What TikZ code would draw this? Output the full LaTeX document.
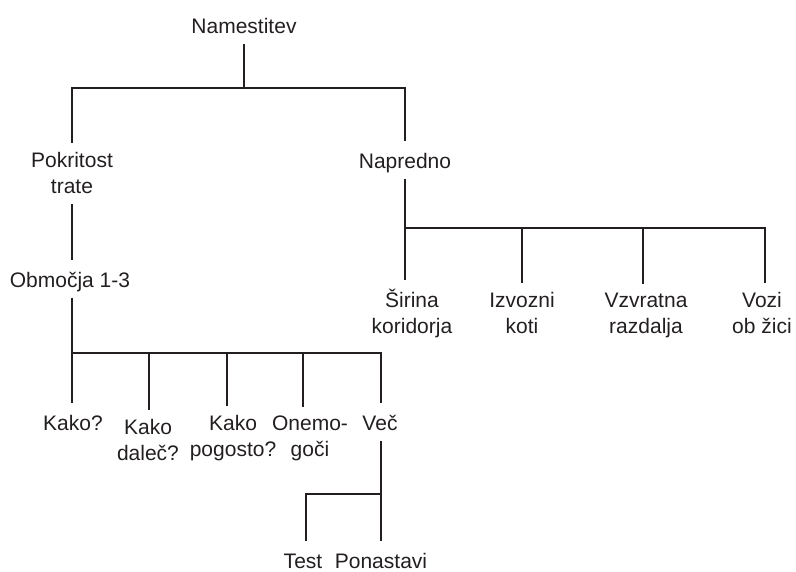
\documentclass[tikz,border=0pt]{standalone}
\usepackage{fontspec}
\setmainfont{Liberation Sans}
\definecolor{treeink}{RGB}{35,31,32}
\tikzset{
  lbl/.style={align=center, inner xsep=0pt, inner ysep=3pt, anchor=base, text=treeink,
    font=\fontsize{21}{25.5}\selectfont,
    execute at begin node=\strut, execute at end node=\strut},
  wire/.style={line width=2.8pt, draw=treeink},
  kid/.style={wire, shorten >=6pt},
}

\begin{document}
\begin{tikzpicture}[x=1pt, y=-1pt]
  \useasboundingbox (0,0) rectangle (796,571);
  % labels (base = last line)
  \node[lbl] (root) at (244,33) {Namestitev};
  \node[lbl] (pok) at (72,193) {Pokritost\\trate};
  \node[lbl] (nap) at (405,168) {Napredno};
  \node[lbl] (obm) at (70,287) {Območja 1-3};
  \node[lbl] (sir) at (412,333) {Širina\\koridorja};
  \node[lbl] (izv) at (522,333) {Izvozni\\koti};
  \node[lbl] (vzv) at (646,333) {Vzvratna\\razdalja};
  \node[lbl] (voz) at (762,333) {Vozi\\ob žici};
  \node[lbl] (kak) at (73,430) {Kako?};
  \node[lbl] (dal) at (148,460) {Kako\\daleč?};
  \node[lbl] (pog) at (233,456) {Kako\\pogosto?};
  \node[lbl] (one) at (310,456) {Onemo-\\goči};
  \node[lbl] (vec) at (380,430) {Več};
  \node[lbl] (tst) at (303,568) {Test};
  \node[lbl] (pon) at (381,568) {Ponastavi};
  % bus lines
  \coordinate (b0) at (244,88);
  \coordinate (b1) at (405,228);
  \coordinate (b2) at (72,353);
  \coordinate (b3) at (381,494);
  % connectors
  \draw[wire] (root.south) -- (b0);
  \foreach \k in {pok,nap}
    \draw[kid] (b0) -| (\k.north);
  \draw[kid] (pok.south) -- (pok |- obm.north);
  \draw[wire] (nap.south) -- (b1);
  \foreach \k/\dx in {sir/-7, izv/0, vzv/-3, voz/3}
    \draw[kid] (b1) -| ([xshift=\dx pt]\k.north);
  \draw[wire] (b2 |- obm.south) -- (b2);
  \foreach \k/\dx in {kak/-1, dal/1, pog/-6, one/-7, vec/1}
    \draw[kid] (b2) -| ([xshift=\dx pt]\k.north);
  \draw[wire] (b3 |- vec.south) -- (b3);
  \foreach \k/\dx in {tst/3, pon/0}
    \draw[kid] (b3) -| ([xshift=\dx pt]\k.north);
\end{tikzpicture}
\end{document}
